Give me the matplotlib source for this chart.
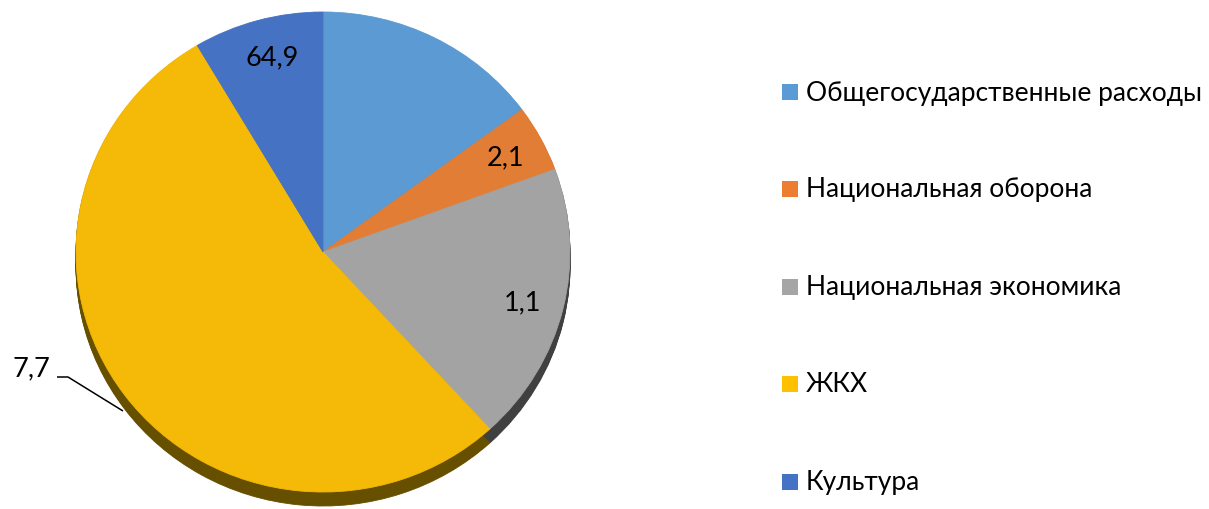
import matplotlib
matplotlib.use("Agg")
import matplotlib.pyplot as plt
from matplotlib.patches import Rectangle

categories = ["Общегосударственные расходы", "Национальная оборона",
              "Национальная экономика", "ЖКХ", "Культура"]
shares = [14.9, 4.5, 18.8, 53.3, 8.5]
value_labels = ["", "2,1", "1,1", "7,7", "64,9"]

face_colors = ["#5B9AD2", "#E27D35", "#A3A3A3", "#F5BA08", "#4572C2"]
legend_colors = ["#5B9BD5", "#ED7D31", "#A5A5A5", "#FFC000", "#4472C4"]
wall_colors = ["#2E4F6B", "#73401B", "#404040", "#665000", "#233A63"]

W, H = 1209, 510
FONT = "Lato"
FS = 19.5
FS_LEG = 19

fig = plt.figure(figsize=(W / 100, H / 100), dpi=100)
ax = fig.add_axes([0, 0, 1, 1])

rx, ry = 247.0, 240.0
k = rx / ry


def py(p):
    # pixel y from top -> data y
    return (H - p) * k


cx, cyp = 323.0, 253.0
depth = 14

# side walls (3D thickness)
for s in range(1, depth + 1):
    wedges, _ = ax.pie(shares, colors=wall_colors, startangle=90, counterclock=False,
                       radius=rx, center=(cx, py(cyp + s)), frame=True,
                       wedgeprops=dict(linewidth=0.6))
    for w, c in zip(wedges, wall_colors):
        w.set_edgecolor(c)
        w.set_zorder(1)

wedges, _ = ax.pie(shares, colors=face_colors, startangle=90, counterclock=False,
                   radius=rx, center=(cx, py(cyp)), frame=True,
                   wedgeprops=dict(linewidth=0.6))
for w, c in zip(wedges, face_colors):
    w.set_edgecolor(c)
    w.set_zorder(3)

ax.set_aspect("auto")
ax.set_xlim(0, W)
ax.set_ylim(0, H * k)
ax.set_axis_off()

# data labels
label_pos = {1: (505, 158), 2: (522, 303), 4: (272, 58)}
for i, (x, y) in label_pos.items():
    ax.text(x, py(y), value_labels[i], ha="center", va="center",
            fontsize=FS, family=FONT, color="black", zorder=5)

# leader label for ЖКХ
ax.text(50, py(369), value_labels[3], ha="right", va="center",
        fontsize=FS, family=FONT, color="black", zorder=5)
ax.plot([57, 68, 123], [py(378), py(378), py(412)], color="black", lw=1.1,
        zorder=5, solid_capstyle="butt")

# legend
row_y = [93, 190, 288, 385, 483]
for c, name, y in zip(legend_colors, categories, row_y):
    ax.add_patch(Rectangle((782, py(y + 8)), 16, 16 * k, facecolor=c,
                           edgecolor="none", zorder=5))
    ax.text(806, py(y), name, ha="left", va="center", fontsize=FS_LEG,
            family=FONT, color="black", zorder=5)

fig.savefig("out.png", dpi=100)
